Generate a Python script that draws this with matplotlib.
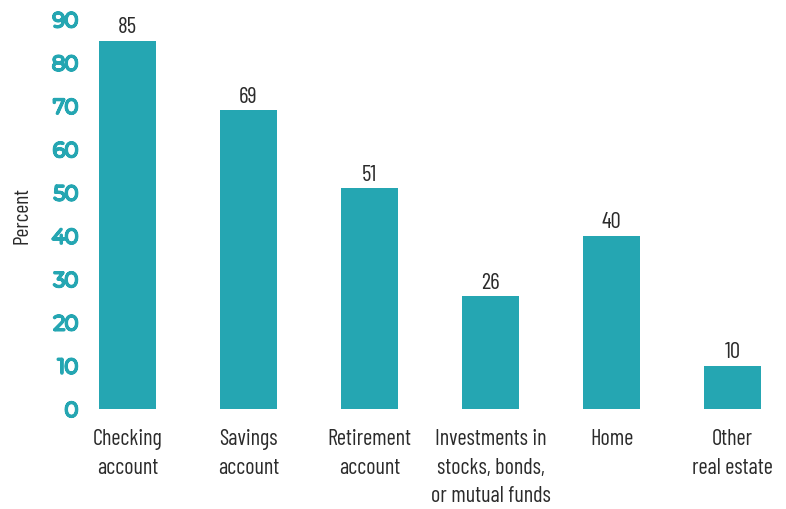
import numpy as np
import matplotlib
matplotlib.use("Agg")
import matplotlib.pyplot as plt
import matplotlib.patheffects as pe

categories = ["Checking\naccount", "Savings\naccount", "Retirement\naccount",
              "Investments in\nstocks, bonds,\nor mutual funds", "Home",
              "Other\nreal estate"]
values = [85, 69, 51, 26, 40, 10]
yticks = [0, 10, 20, 30, 40, 50, 60, 70, 80, 90]

teal = "#25A6B2"
dark = "#2b2b2b"
narrow = "Barlow Condensed"

fig = plt.figure(figsize=(7.86, 5.10), dpi=100)
ax = fig.add_axes([91.2 / 786, 100 / 510, (768.8 - 91.2) / 786, (410 - 20.4) / 510])

x = np.arange(len(values))
ax.bar(x, values, width=57 / 121, color=teal)

# value labels above bars
for xi, v in zip(x, values):
    ax.text(xi, v + 2, str(v), ha="center", va="baseline",
            fontsize=16.5, family=narrow, color=dark)

ax.set_xlim(-0.3, len(values) - 0.7)
ax.set_ylim(0, 90)
ax.set_yticks(yticks)
ax.set_yticklabels([str(t) for t in yticks], fontsize=14.5, fontweight="bold",
                   family="Montserrat", color=teal)
# the installed Montserrat comes out thin, so thicken it with a stroke
for lab in ax.get_yticklabels():
    lab.set_path_effects([pe.withStroke(linewidth=2.2, foreground=teal)])
ax.set_xticks(x)
ax.set_xticklabels(categories, fontsize=16, family=narrow, color=dark,
                   linespacing=1.45)
ax.tick_params(axis="both", length=0)
ax.tick_params(axis="y", pad=9.5)
ax.tick_params(axis="x", pad=14)
for s in ax.spines.values():
    s.set_visible(False)

ax.set_ylabel("Percent", fontsize=15.5, family=narrow, color=dark)
ax.yaxis.set_label_coords(-0.088, 0.5)

fig.savefig("out.png", dpi=100)
